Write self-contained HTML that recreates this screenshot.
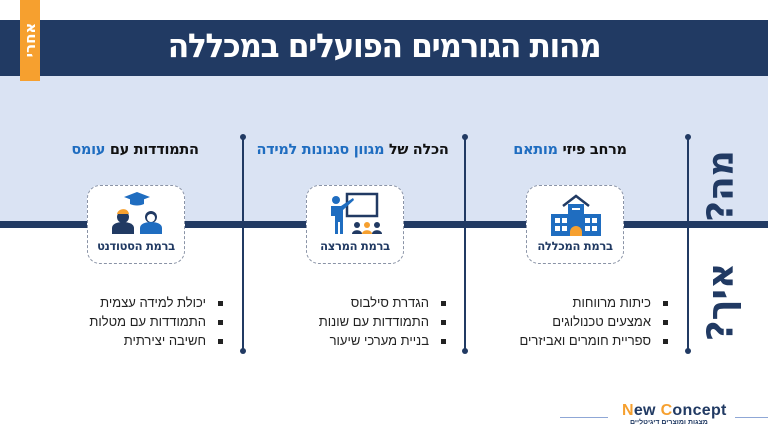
<!DOCTYPE html>
<html><head><meta charset="utf-8"><style>
*{margin:0;padding:0;box-sizing:border-box}
body{width:768px;height:432px;position:relative;overflow:hidden;background:#fff;font-family:"Liberation Sans","DejaVu Sans",sans-serif}
.abs{position:absolute}
.B{font-family:"DejaVu Sans","Liberation Sans",sans-serif;font-weight:bold}
.navy{left:0;top:20px;width:768px;height:56px;background:#213a63}
.lb{left:0;top:76px;width:768px;height:148px;background:#dae3f3}
.hl{left:0;top:221px;width:768px;height:7px;background:#213a63}
.tab{left:20px;top:0;width:20px;height:81px;background:#f6a02f}
.tabt{left:30px;top:40px;transform:translate(-50%,-50%) rotate(-90deg);color:#fff;font-size:15px;white-space:nowrap;direction:rtl}
.title{left:0;width:768px;top:26px;text-align:center;color:#fff;font-size:33px;direction:rtl;letter-spacing:-1.5px;transform:scaleX(0.95)}
.vl{width:2px;background:#213a63;top:137px;height:214px}
.dot{width:6px;height:6px;border-radius:3px;background:#213a63}
.hd{top:142px;font-size:14.5px;color:#111;direction:rtl;text-align:center;white-space:nowrap;letter-spacing:-0.3px}
.hd b{color:#1f6dc0}
.box{width:98px;height:79px;top:185px;border:1px dashed #8a93a6;border-radius:13px;background:#fff}
.bl{position:absolute;left:0;right:0;bottom:10px;text-align:center;font-size:11.5px;color:#213a63;direction:rtl;letter-spacing:-0.3px}
.ul{direction:rtl;font-size:13px;color:#222;line-height:19px;list-style:none;text-align:right}
.ul li:before{content:"";display:inline-block;width:5px;height:5px;background:#222;margin-left:12px;vertical-align:middle}
.side{color:#213a63;font-size:36px;transform:translate(-50%,-50%) rotate(-90deg);white-space:nowrap;direction:rtl}
</style></head><body>
<div class="abs navy"></div>
<div class="abs lb"></div>
<div class="abs hl"></div>
<div class="abs tab"></div>
<div class="abs tabt B">אחרי</div>
<div class="abs title B">מהות הגורמים הפועלים במכללה</div>

<div class="abs vl" style="left:242px"></div>
<div class="abs vl" style="left:464px"></div>
<div class="abs vl" style="left:687px"></div>
<div class="abs dot" style="left:240px;top:134px"></div>
<div class="abs dot" style="left:462px;top:134px"></div>
<div class="abs dot" style="left:685px;top:134px"></div>
<div class="abs dot" style="left:240px;top:348px"></div>
<div class="abs dot" style="left:462px;top:348px"></div>
<div class="abs dot" style="left:685px;top:348px"></div>

<div class="abs hd B" style="left:40px;width:190px">התמודדות עם <b>עומס</b></div>
<div class="abs hd B" style="left:240px;width:225px">הכלה של <b>מגוון סגנונות למידה</b></div>
<div class="abs hd B" style="left:490px;width:160px">מרחב פיזי <b>מותאם</b></div>

<div class="abs box" style="left:87px">
<svg class="abs" style="left:18px;top:4px" width="62" height="44" viewBox="0 0 62 44">
<polygon points="31,2 44,7 31,12 18,7" fill="#1f6dc0"/><path d="M24 9v5c4 2 10 2 14 0V9" fill="#1f6dc0"/>
<circle cx="17" cy="27" r="6" fill="#213a63"/><path d="M11 24c1-6 11-7 12 0" fill="#f6a02f"/>
<path d="M6 44v-6c0-4 5-6 11-6s11 2 11 6v6z" fill="#213a63"/>
<circle cx="45" cy="27" r="6" fill="#213a63"/><circle cx="45" cy="28" r="4" fill="#fff"/>
<path d="M34 44v-6c0-4 5-6 11-6s11 2 11 6v6z" fill="#1f6dc0"/>
</svg>
<div class="bl B">ברמת הסטודנט</div></div>

<div class="abs box" style="left:306px">
<svg class="abs" style="left:20px;top:6px" width="60" height="44" viewBox="0 0 60 44">
<rect x="20" y="2" width="30" height="22" fill="none" stroke="#213a63" stroke-width="2.5"/>
<circle cx="9" cy="8" r="4" fill="#1f6dc0"/>
<path d="M4 14h10l12-8 1 2-11 10v24h-3V30h-2v12H8V24H4z" fill="#1f6dc0"/>
<circle cx="30" cy="33" r="3" fill="#213a63"/><path d="M25 42c0-5 10-5 10 0z" fill="#213a63"/>
<circle cx="40" cy="33" r="3" fill="#f6a02f"/><path d="M35 42c0-5 10-5 10 0z" fill="#f6a02f"/>
<circle cx="50" cy="33" r="3" fill="#213a63"/><path d="M45 42c0-5 10-5 10 0z" fill="#213a63"/>
</svg>
<div class="bl B">ברמת המרצה</div></div>

<div class="abs box" style="left:526px">
<svg class="abs" style="left:22px;top:8px" width="54" height="42" viewBox="0 0 54 42">
<path d="M14 12L27 2l13 10" fill="none" stroke="#213a63" stroke-width="2.5"/>
<rect x="19" y="10" width="16" height="12" fill="#1f6dc0"/>
<rect x="2" y="20" width="50" height="22" fill="#1f6dc0"/>
<g fill="#fff"><rect x="6" y="24" width="5" height="5"/><rect x="13" y="24" width="5" height="5"/><rect x="36" y="24" width="5" height="5"/><rect x="43" y="24" width="5" height="5"/><rect x="6" y="32" width="5" height="5"/><rect x="13" y="32" width="5" height="5"/><rect x="36" y="32" width="5" height="5"/><rect x="43" y="32" width="5" height="5"/><rect x="23" y="14" width="8" height="2"/></g>
<path d="M21 42v-4a6 6 0 0 1 12 0v4z" fill="#f6a02f"/>
</svg>
<div class="bl B">ברמת המכללה</div></div>

<ul class="abs ul" style="right:545px;top:293px"><li>יכולת למידה עצמית</li><li>התמודדות עם מטלות</li><li>חשיבה יצירתית</li></ul>
<ul class="abs ul" style="right:322px;top:293px"><li>הגדרת סילבוס</li><li>התמודדות עם שונות</li><li>בניית מערכי שיעור</li></ul>
<ul class="abs ul" style="right:100px;top:293px"><li>כיתות מרווחות</li><li>אמצעים טכנולוגים</li><li>ספריית חומרים ואביזרים</li></ul>

<div class="abs side B" style="left:721px;top:186px">מה?</div>
<div class="abs side B" style="left:721px;top:302px">איך?</div>

<div class="abs" style="left:560px;top:417px;width:48px;height:1px;background:#8fa7d6"></div>
<div class="abs" style="left:735px;top:417px;width:33px;height:1px;background:#8fa7d6"></div>
<div class="abs" style="left:622px;top:402px;font-weight:bold;font-size:16px;color:#213a63;white-space:nowrap;letter-spacing:0.3px"><span style="color:#f6a02f">N</span>ew <span style="color:#f6a02f">C</span>oncept</div>
<div class="abs" style="left:630px;top:419px;font-size:7px;color:#213a63;direction:rtl;white-space:nowrap;font-weight:bold">מצגות ומוצרים דיגיטליים</div>
</body></html>
